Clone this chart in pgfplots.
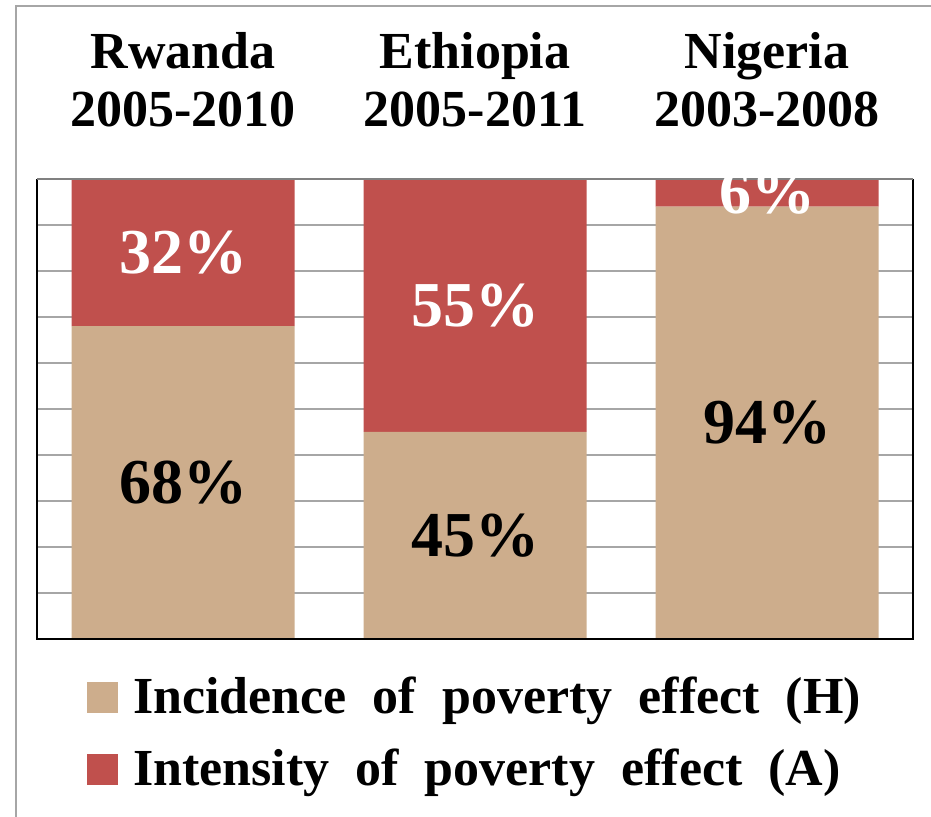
\documentclass[border=0pt]{standalone}
\usepackage{fontspec}
\setmainfont{Liberation Serif}
\newfontfamily\legfont{Liberation Serif}[WordSpace=2]
\usepackage{pgfplots}
\pgfplotsset{compat=1.18}
\definecolor{tanH}{RGB}{205,173,140}
\definecolor{redA}{RGB}{192,80,77}
\definecolor{gridc}{RGB}{166,166,166}
\begin{document}
\begin{tikzpicture}[x=1pt,y=1pt]
\path[use as bounding box] (0,0) rectangle (931,816);
\draw[gridc, line width=1.5pt] (16,-5) -- (16,810) -- (940,810);
\begin{axis}[
  name=main,
  at={(37pt,177pt)}, anchor=south west,
  scale only axis, width=876pt, height=460pt,
  xmin=-0.5, xmax=2.5, ymin=0, ymax=100,
  ybar stacked, bar width=223pt,
  xtick={0,1,2},
  xticklabels={{Rwanda\\2005-2010},{Ethiopia\\2005-2011},{Nigeria\\2003-2008}},
  xticklabel pos=upper,
  x tick label style={font=\fontsize{52}{58}\selectfont\bfseries, align=center, anchor=south, inner sep=0pt, yshift=52pt},
  ytick={0,10,...,100}, yticklabels={},
  ymajorgrids, grid style={gridc, line width=1.5pt},
  major tick length=0pt,
  axis line style={draw=none},
  legend style={at={(axis description cs:0.057,-0.081)}, anchor=north west, draw=none, fill=none, inner sep=0pt,
    font=\legfont\fontsize{52}{60}\selectfont\bfseries, row sep=34pt, column sep=15pt, nodes={inner sep=0pt}},
  legend cell align=left,
  legend image code/.code={\fill[#1] (0pt,-17pt) rectangle (31pt,14pt);},
]
\addplot[fill=tanH, draw=none] coordinates {(0,68) (1,45) (2,94)};
\addlegendentry{Incidence of poverty effect (H)}
\addplot[fill=redA, draw=none] coordinates {(0,32) (1,55) (2,6)};
\addlegendentry{Intensity of poverty effect (A)}
\end{axis}
\draw[black, line width=2pt] (main.north west) -- (main.south west) -- (main.south east) -- (main.north east);
\draw[gray, line width=2pt] (main.north west) -- (main.north east);
\begin{axis}[
  at={(37pt,177pt)}, anchor=south west,
  scale only axis, width=876pt, height=460pt,
  xmin=-0.5, xmax=2.5, ymin=0, ymax=100,
  hide axis, clip=true, clip marker paths=true,
  point meta=explicit symbolic,
  every node near coord/.append style={anchor=center, inner sep=0pt, font=\fontsize{64}{70}\selectfont\bfseries},
]
\addplot[draw=none, mark=none, nodes near coords, every node near coord/.append style={text=black}]
  coordinates {(0,34)[68\%] (1,22.5)[45\%] (2,47)[94\%]};
\addplot[draw=none, mark=none, nodes near coords, every node near coord/.append style={text=white}]
  coordinates {(0,84)[32\%] (1,72.5)[55\%] (2,97)[6\%]};
\end{axis}
\end{tikzpicture}
\end{document}
